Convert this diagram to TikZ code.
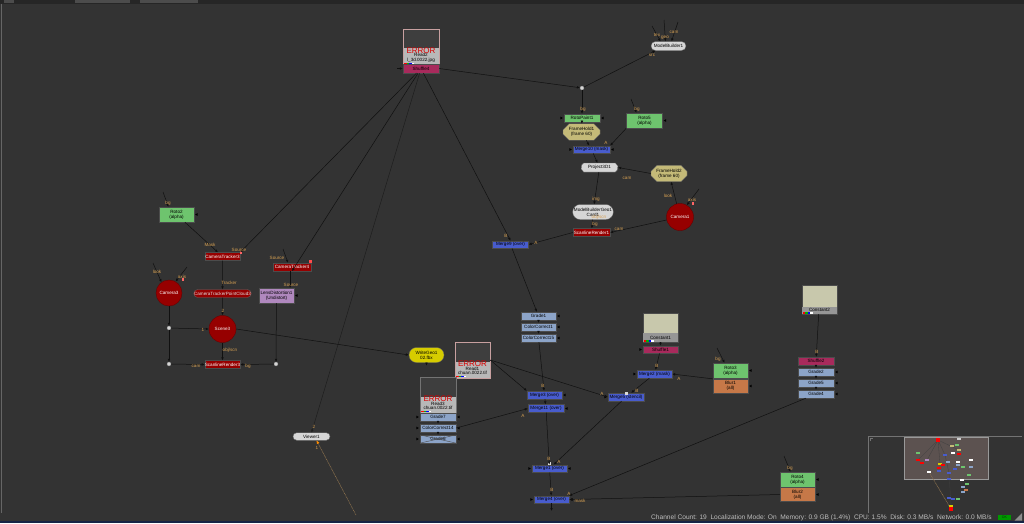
\documentclass[tikz,border=0pt]{standalone}
\usepackage{fontspec}
\setmainfont{Liberation Sans}
\usetikzlibrary{arrows.meta,shapes.misc,calc}
\definecolor{bgc}{RGB}{51,51,51}
\definecolor{edgec}{RGB}{16,16,16}
\definecolor{lblc}{RGB}{214,160,82}
\definecolor{mergec}{RGB}{72,92,205}
\definecolor{gradec}{RGB}{140,164,200}
\definecolor{rotoc}{RGB}{110,196,110}
\definecolor{blurc}{RGB}{198,120,72}
\definecolor{nkred}{RGB}{150,0,0}
\definecolor{shufc}{RGB}{168,42,92}
\definecolor{holdc}{RGB}{196,186,120}
\definecolor{lensc}{RGB}{176,136,190}
\definecolor{constc}{RGB}{200,200,172}
\definecolor{writec}{RGB}{214,204,0}
\definecolor{pillc}{RGB}{214,214,214}
\definecolor{thumbd}{RGB}{62,62,62}
\definecolor{thumbl}{RGB}{184,184,184}
\definecolor{readb}{RGB}{200,160,160}
\definecolor{stripc}{RGB}{150,150,150}
\definecolor{statc}{RGB}{190,190,190}
\definecolor{mmview}{RGB}{92,82,80}
\definecolor{viewc}{RGB}{150,120,80}
\definecolor{barc}{RGB}{22,36,70}
\newcommand{\nf}{\fontsize{4.6}{5.0}\selectfont}
\newcommand{\erf}{\fontsize{8}{8}\selectfont}
\newcommand{\sbf}{\fontsize{6.6}{7}\selectfont}
\begin{document}
\begin{tikzpicture}[x=1pt,y=-1pt,
  edge/.style={draw=edgec,line width=0.5pt,-{Latex[length=3pt,width=2.6pt]}},
  box/.style={rectangle,draw=black!70,line width=0.3pt,minimum width=36pt,minimum height=8pt,inner sep=0pt,font=\nf,text=black},
  mergebox/.style={box,fill=mergec},
  gradebox/.style={box,fill=gradec},
  rotobox/.style={box,fill=rotoc,minimum height=15pt,align=center},
  blurbox/.style={box,fill=blurc,minimum height=14pt,align=center},
  redbox/.style={box,fill=nkred,text=white},
  shufbox/.style={box,fill=shufc},
  camnode/.style={circle,fill=nkred,draw=nkred!70!black,minimum size=26pt,inner sep=0pt,font=\nf,text=white},
  holdbox/.style={chamfered rectangle,chamfered rectangle xsep=2.5pt,draw=black!60,line width=0.3pt,fill=holdc,minimum width=37pt,minimum height=14pt,inner sep=0pt,font=\nf,align=center},
  pill/.style={rounded rectangle,draw=black!60,line width=0.3pt,fill=pillc,minimum width=35pt,minimum height=8pt,inner sep=0pt,font=\nf,align=center},
  readframe/.style={rectangle,draw=readb,line width=0.5pt,fill=thumbl,minimum width=35pt,minimum height=36pt,inner sep=0pt},
  dotnode/.style={circle,fill=pillc,draw=black!50,line width=0.2pt,minimum size=4pt,inner sep=0pt},
  lbl/.style={font=\nf,text=lblc,inner sep=0pt},
  ertext/.style={font=\erf,text=red!85!black,inner sep=0pt},
  mtri/.style={draw=none,fill=black},
]
\useasboundingbox (0,0) rectangle (1024,523);
% ---------- background and frame
\fill[bgc] (0,0) rectangle (1024,523);
\fill[black!85] (0,0) rectangle (1024,3.5);
\fill[black!70] (4,0) rectangle (14,2.5);
\fill[black!70] (75,0) rectangle (130,2.5);
\fill[black!70] (140,0) rectangle (198,2.5);
\draw[black!60,line width=0.6pt] (1.5,3.5) -- (1.5,513);
\fill[barc] (0,521) rectangle (1024,523);

% ---------- top Read node with Shuffle4
\node[readframe,minimum width=36pt,minimum height=35pt] (read2) at (421,46.5) {};
\fill[thumbd] (403.5,29.5) rectangle (438.5,48);
\node[font=\nf,inner sep=0pt] (read2n) at (421,55.3) {Read2};
\node[ertext] (read2e) at (421,50.3) {ERROR};
\node[font=\nf,inner sep=0pt] (read2f) at (421,60) {l\_3d.0022.jpg};
\fill[red] (404,62.5) rectangle (406.5,64);\fill[green!70!black] (406.5,62.5) rectangle (409,64);
\fill[blue] (409,62.5) rectangle (411.5,64);\fill[white] (411.5,62.5) rectangle (414,64);
\node[shufbox,minimum height=9pt] (shuf4) at (421,68.5) {Shuffle4};

% ---------- upper right chain
\node[pill,minimum height=9pt] (mb1) at (668.5,46) {ModelBuilder1};
\node[dotnode] (dot1) at (582,88) {};
\node[rotobox,minimum height=8pt] (rotopaint1) at (582,118) {RotoPaint1};
\node[rotobox] (roto5) at (644.5,120.5) {Roto5\\(alpha)};
\node[holdbox] (framehold1) at (581.5,132) {FrameHold1\\(frame 60)};
\node[mergebox,minimum width=37pt,minimum height=7.5pt] (merge10) at (591.5,149.5) {Merge10 (mask)};
\node[pill,rounded rectangle arc length=120,minimum width=37pt,minimum height=9pt] (project3d1) at (599.5,167.5) {Project3D1};
\node[holdbox,minimum width=36pt,minimum height=15pt] (framehold2) at (669,173.5) {FrameHold2\\(frame 60)};
\node[pill,minimum width=37pt,minimum height=15pt] (card1) at (593,212) {ModelBuilderGeo1\\Card1};
\node[redbox,minimum width=37pt] (scanline1) at (591.5,232.5) {ScanlineRender1};
\node[camnode,minimum size=27pt] (camera1) at (680,217) {Camera1};
\node[mergebox,minimum height=7.5pt] (merge9) at (510.5,244.5) {Merge9 (over)};
\node[gradebox,minimum width=35pt] (grade1) at (538.5,316) {Grade1};
\node[gradebox,minimum width=35pt] (cc1) at (538.5,327) {ColorCorrect1};
\node[gradebox,minimum width=35pt] (cc15) at (538.5,338) {ColorCorrect15};

% ---------- left cluster
\node[rotobox,minimum width=35pt] (roto2) at (176.5,214.5) {Roto2\\(alpha)};
\node[redbox,minimum width=35pt] (ct3) at (222.5,256.5) {CameraTracker3};
\node[redbox,minimum width=38pt] (ct4) at (292,267) {CameraTracker4};
\node[rounded rectangle,fill=nkred,draw=black!60,line width=0.3pt,minimum width=34pt,minimum height=8pt,inner sep=0pt,font=\nf,text=white!88!black] (pc3) at (222.5,293.5) {CameraTrackerPointCloud3};
\node[box,fill=lensc,minimum width=35pt,minimum height=15pt,align=center] (ld1) at (276.5,295.5) {LensDistortion1\\(Undistort)};
\node[camnode] (camera3) at (169,293) {Camera3};
\node[camnode,minimum size=27pt] (scene3) at (222.5,329) {Scene3};
\node[dotnode] (dotA) at (169,328) {};
\node[dotnode] (dotB) at (169,364) {};
\node[dotnode] (dotC) at (276,364) {};
\node[redbox,minimum width=35pt] (scan3) at (222.5,364.5) {ScanlineRender3};

% ---------- centre
\node[rounded rectangle,fill=writec,draw=black!60,line width=0.3pt,minimum width=35pt,minimum height=15pt,inner sep=0pt,font=\nf,align=center] (writegeo) at (426.5,355) {WriteGeo1\\02.fbx};
\node[readframe] (read1) at (472.5,360) {};
\fill[thumbd] (455.5,342.5) rectangle (489.5,362);
\node[font=\nf,inner sep=0pt] (read1n) at (472.5,369) {Read1};
\node[ertext] (read1e) at (472.5,363.3) {ERROR};
\node[font=\nf,inner sep=0pt] (read1f) at (472.5,373.3) {chuan.0022.tif};
\fill[red] (456,375.5) rectangle (458.5,377);\fill[green!70!black] (458.5,375.5) rectangle (461,377);
\fill[blue] (461,375.5) rectangle (463.5,377);\fill[white] (463.5,375.5) rectangle (466,377);
\node[readframe,draw=black!55,minimum width=36pt] (read3) at (438,395) {};
\fill[thumbd] (420.5,377.5) rectangle (455.5,397);
\node[font=\nf,inner sep=0pt] (read3n) at (438,404) {Read3};
\node[ertext] (read3e) at (438,398.3) {ERROR};
\node[font=\nf,inner sep=0pt] (read3f) at (438,408.3) {chuan.0022.tif};
\fill[red] (421,410.5) rectangle (423.5,412);\fill[green!70!black] (423.5,410.5) rectangle (426,412);
\fill[blue] (426,410.5) rectangle (428.5,412);\fill[white] (428.5,410.5) rectangle (431,412);
\node[gradebox] (grade7) at (438,417) {Grade7};
\node[gradebox] (cc14) at (438,428) {ColorCorrect14};
\node[gradebox] (grade6) at (438,439) {Grade6};
\draw[black!70,line width=0.4pt] (grade6.north west) -- (grade6.south east) (grade6.south west) -- (grade6.north east);
\node[mergebox,minimum width=35pt] (merge3) at (544.5,395) {Merge3 (over)};
\node[mergebox] (merge11) at (546,408.5) {Merge11 (over)};
\node[mergebox] (merge5) at (626,397) {Merge5 (stencil)};
\fill[white!85!black] (624.5,391.5) rectangle (627.5,394.5);
\node[mergebox,minimum width=35pt] (merge2) at (654.5,374) {Merge2 (mask)};
\node[box,fill=constc,minimum width=35pt,minimum height=29pt] (constant1) at (660.5,327.5) {};
\fill[stripc] (643.2,333) rectangle (677.8,341.8);
\node[font=\nf,inner sep=0pt] (const1n) at (660.5,337.5) {Constant1};
\fill[red] (643.5,340) rectangle (646,341.5);\fill[green!70!black] (646,340) rectangle (648.5,341.5);
\fill[blue] (648.5,340) rectangle (651,341.5);\fill[white] (651,340) rectangle (653.5,341.5);
\node[shufbox,minimum width=35pt,minimum height=7.5pt] (shuffle1) at (660.5,349.5) {Shuffle1};
\node[rotobox,minimum width=35pt] (roto3) at (730.5,370.5) {Roto3\\(alpha)};
\node[blurbox,minimum width=35pt] (blur1) at (730.5,386) {Blur1\\(all)};
\node[mergebox,minimum width=35pt,minimum height=7.5pt] (merge1) at (549.5,468.5) {Merge1 (over)};
\fill[white!85!black] (547.5,462) rectangle (550.5,465);
\node[mergebox,minimum width=35pt,minimum height=7.5pt] (merge4) at (551.5,499.5) {Merge4 (over)};
\node[rotobox,minimum width=35pt] (roto4) at (797.5,479.5) {Roto4\\(alpha)};
\node[blurbox,minimum width=35pt] (blur2) at (797.5,494.5) {Blur2\\(all)};
\node[box,fill=constc,minimum width=35pt,minimum height=29pt] (constant2) at (819.5,299.5) {};
\fill[stripc] (802.2,307) rectangle (836.8,313.8);
\node[font=\nf,inner sep=0pt] (const2n) at (819.5,310.2) {Constant2};
\fill[red] (802.5,312.3) rectangle (805,313.6);\fill[green!70!black] (805,312.3) rectangle (807.5,313.6);
\fill[blue] (807.5,312.3) rectangle (810,313.6);\fill[white] (810,312.3) rectangle (812.5,313.6);
\node[shufbox] (shuffle2) at (816,361) {Shuffle2};
\node[gradebox] (grade2) at (816,372) {Grade2};
\node[gradebox] (grade5) at (816,383) {Grade5};
\node[gradebox] (grade4) at (816,394) {Grade4};
\node[pill,minimum width=37pt,minimum height=7.5pt] (viewer1) at (311.5,436.5) {Viewer1};

% ---------- small markers
\fill[red!60!white] (239.5,251) rectangle (242,253.5);
\fill[red!70!white] (309,260) rectangle (311.5,262.5);
\fill[red!60!white] (181.5,278) rectangle (184,280.5);
\fill[red!60!white] (691.5,202) rectangle (694,204.5);
\foreach \n in {rotopaint1,roto5,roto2,grade1,cc1,cc15,grade7,cc14,grade6,merge3,merge11,merge1,merge4,roto3,blur1,roto4,blur2,grade2,grade5,grade4,ld1,merge10}
  \fill[mtri] ($(\n.east)+(3.5,-1.4)$) -- ($(\n.east)+(3.5,1.4)$) -- ($(\n.east)+(1,0)$) -- cycle;
\foreach \n in {rotopaint1,merge10,merge1,merge4,merge5,merge2,shuffle1,grade7,cc14,grade6}
  \fill[mtri] ($(\n.west)+(-3.5,-1.4)$) -- ($(\n.west)+(-3.5,1.4)$) -- ($(\n.west)+(-1,0)$) -- cycle;

% ---------- connectors
\draw[edge] (shuf4.east) -- (dot1);
\draw[edge] (dot1) -- (mb1.south west);
\draw[edge] (dot1) -- (rotopaint1.north);
\draw[edge] (rotopaint1) -- (framehold1);
\draw[edge] (framehold1) -- (merge10);
\draw[edge] (roto5.south west) -- (merge10.north east);
\draw[edge] (merge10) -- (project3d1);
\draw[edge] (framehold2.west) -- (project3d1.east);
\draw[edge] (project3d1) -- (card1);
\draw[edge] (card1) -- (scanline1);
\draw[edge] (camera1) -- (scanline1.east);
\draw[edge] (camera1) -- (framehold2);
\draw[edge] (scanline1.west) -- (merge9.east);
\draw[edge] (shuf4) -- (merge9.north);
\draw[edge] (shuf4) -- (ct3.north east);
\draw[edge] (shuf4) -- (ct4.south);
\draw[edge,draw=edgec!60!bgc] (shuf4) -- (viewer1.north);
\draw[edge] (roto2) -- (ct3);
\draw[edge] (ct3) -- (pc3);
\draw[edge] (ct4.south -| ld1.north east) ++(-4,0) -- ($(ld1.north east)+(-4,0)$);
\draw[edge] (pc3) -- (scene3);
\draw[edge] (camera3) -- (dotA);
\draw[edge] (dotA) -- (dotB);
\draw[edge] (dotB) -- (scan3.west);
\draw[edge] (dotA) -- (scene3.west);
\draw[edge] (scene3) -- (scan3);
\draw[edge] (ld1) -- (dotC);
\draw[edge] (dotC) -- (scan3.east);
\draw[edge] (scene3.east) -- (writegeo.west);
\draw[edge] (merge9) -- (grade1);
\draw[edge] (grade1) -- (cc1);
\draw[edge] (cc1) -- (cc15);
\draw[edge] (cc15) -- (merge3);
\draw[edge] (read1.east) -- (merge3.north west);
\draw[edge] (read1.east) -- (merge5.west);
\draw[edge] (merge3) -- (merge11);
\draw[edge] (cc14.east) -- (merge11.west);
\draw[edge] (grade7) -- (cc14);
\draw[edge] (cc14) -- (grade6);
\draw[edge] (constant1) -- (shuffle1);
\draw[edge] (shuffle1) -- (merge2);
\draw[edge] (blur1.north west) -- (merge2.east);
\draw[edge] (merge2) -- (merge5);
\draw[edge] (merge5) -- (merge1);
\draw[edge] (merge11) -- (merge1);
\draw[edge] (merge1) -- (merge4);
\draw[edge] (grade4) -- (merge4.north east);
\draw[edge] (blur2.west) -- (merge4.east);
\coordinate (m4out) at (551.5,511);
\draw[edge] (merge4.south) -- (m4out);
\draw[edge] (writegeo.south) -- ++(0,3);
\draw[edge] (constant2) -- (shuffle2);
\draw[edge] (shuffle2) -- (grade2);
\draw[edge] (grade2) -- (grade5);
\draw[edge] (grade5) -- (grade4);
% free inputs
\coordinate (mbt) at (652,26); \coordinate (mbg) at (664,20); \coordinate (mbc) at (678,22);
\draw[edge] (mbt) -- ($(mb1.north)+(-8,0)$);
\draw[edge] (mbg) -- ($(mb1.north)+(-3,0)$);
\draw[edge] (mbc) -- ($(mb1.north)+(3,0)$);
\coordinate (r5in) at (631,99); \draw[edge] (r5in) -- ($(roto5.north)+(-8,0)$);
\coordinate (r2in) at (163,192); \draw[edge] (r2in) -- ($(roto2.north)+(-8,0)$);
\coordinate (c4in) at (283,249); \draw[edge] (c4in) -- ($(ct4.north)+(-4,0)$);
\coordinate (c3look) at (153,263); \draw[edge] (c3look) -- (camera3.125);
\coordinate (c3axis) at (187,267); \draw[edge] (c3axis) -- (camera3.60);
\coordinate (c1axis) at (699,189); \draw[edge] (c1axis) -- (camera1.60);
\coordinate (r3in) at (717,348); \draw[edge] (r3in) -- ($(roto3.north)+(-6,0)$);
\coordinate (r4in) at (784,456); \draw[edge] (r4in) -- ($(roto4.north)+(-7,0)$);
\coordinate (rdin) at (397,68.5); \draw[edge] (rdin) -- (shuf4.west);
\coordinate (v1in) at (356,515);
\draw[draw=viewc,line width=0.5pt,dash pattern=on 1pt off 0.6pt,-{Latex[length=3.5pt,width=3pt,color=orange!90!yellow]}] (v1in) -- ($(viewer1.south)+(5,0)$);

% ---------- input labels
\node[lbl] (l1) at (657,35) {tex};
\node[lbl] (l2) at (665,37.5) {geo};
\node[lbl] (l3) at (674,32) {cam};
\node[lbl] (l4) at (652,55) {src};
\node[lbl] (l5) at (583,109) {bg};
\node[lbl] (l6) at (637,109) {bg};
\node[lbl] (l7) at (606,143) {A};
\node[lbl] (l8) at (627,178) {cam};
\node[lbl] (l9) at (596,199) {img};
\node[lbl] (l10) at (599,217.5) {obj/scn};
\node[lbl] (l11) at (595,224) {bg};
\node[lbl] (l12) at (619,229) {cam};
\node[lbl] (l13) at (668,196) {look};
\node[lbl] (l14) at (692,200) {axis};
\node[lbl] (l15) at (506,236) {B};
\node[lbl] (l16) at (536,243) {A};
\node[lbl] (l17) at (168,203) {bg};
\node[lbl] (l18) at (210,244.5) {Mask};
\node[lbl] (l19) at (239,250) {Source};
\node[lbl] (l20) at (277,258) {Source};
\node[lbl] (l21) at (229,283) {Tracker};
\node[lbl] (l22) at (291,285) {Source};
\node[lbl] (l23) at (157,272) {look};
\node[lbl] (l24) at (182,277) {axis};
\node[lbl] (l25) at (223,310.5) {2};
\node[lbl] (l26) at (203,330) {1};
\node[lbl] (l27) at (230,350) {obj/scn};
\node[lbl] (l28) at (196,366) {cam};
\node[lbl] (l29) at (248,366) {bg};
\node[lbl] (l30) at (543,386) {B};
\node[lbl] (l31) at (523,416) {A};
\node[lbl] (l32) at (657,366) {B};
\node[lbl] (l33) at (679,379) {A};
\node[lbl] (l34) at (718,359) {bg};
\node[lbl] (l35) at (602,394) {A};
\node[lbl] (l36) at (637,390.5) {B};
\node[lbl] (l37) at (549,459) {B};
\node[lbl] (l38) at (559,462) {A};
\node[lbl] (l39) at (552,490) {B};
\node[lbl] (l40) at (569,494) {A};
\node[lbl] (l41) at (580,501) {mask};
\node[lbl] (l42) at (790,468) {bg};
\node[lbl] (l43) at (817,352) {B};
\node[lbl] (l44) at (314,427) {2};
\node[lbl] (l45) at (317,448) {1};

% ---------- minimap
\draw[black!55,line width=0.6pt] (868,513) -- (868,436) -- (1022,436);
\draw[black!55,line width=0.4pt] (870,441) -- (870,438) -- (873,438);
\fill[mmview] (904,437) rectangle (988,479);
\draw[black!40,line width=0.3pt] (904,437) rectangle (988,479);
\draw[black!75,line width=0.3pt] (938,440) -- (918,460) (938,440) -- (927,460) (938,440) -- (945,455) (938,440) -- (959,450) (938,440) -- (940,464) (945,455) -- (949,473) -- (951,506);
\draw[viewc,line width=0.5pt,dash pattern=on 1pt off 0.6pt] (929,472) -- (951,509);
\foreach \x/\y/\c in {959/439/black!20,952/446/holdc,957/445/rotoc,959/450/holdc,918/453/rotoc,953/453/white,959/454/red,945/455/mergec,927/460/lensc,918/460/red,922/463/red,940/464/writec,943/465/red,939/468/red,939/471/mergec,948/462/gradec,958/462/white,958/465/gradec,963/467/rotoc,971/460/white,971/467/gradec,949/473/mergec,955/469/mergec,969/475/rotoc,929/472/white,949/479/mergec,962/480/white,967/484/rotoc,963/487/gradec,966/490/blurc,963/492/gradec,949/498/mergec,953/499/mergec,958/499/rotoc,951/506/writec}
  \fill[\c] (\x-1.6,\y-1) rectangle (\x+1.6,\y+1);
\fill[red] (936,437.5) rectangle (940,441.5);
\fill[red] (949,507) rectangle (953,511);

% ---------- status bar
\node[anchor=west,font=\sbf,text=statc,inner sep=0pt] (status) at (651,518) {Channel Count: 19\ \ Localization Mode: On\ \ Memory: 0.9 GB (1.4\%)\ \ CPU: 1.5\%\ \ Disk: 0.3 MB/s\ \ Network: 0.0 MB/s};
\node[fill=green!60!black,minimum width=13pt,minimum height=5pt,inner sep=0pt,font=\fontsize{3.5}{4}\selectfont,text=green!25!black] (okbox) at (1004.5,517.5) {OK};
\fill[black!45] (1022,513) -- (1022,520.5) -- (1014.5,520.5) -- cycle;
\end{tikzpicture}
\end{document}
